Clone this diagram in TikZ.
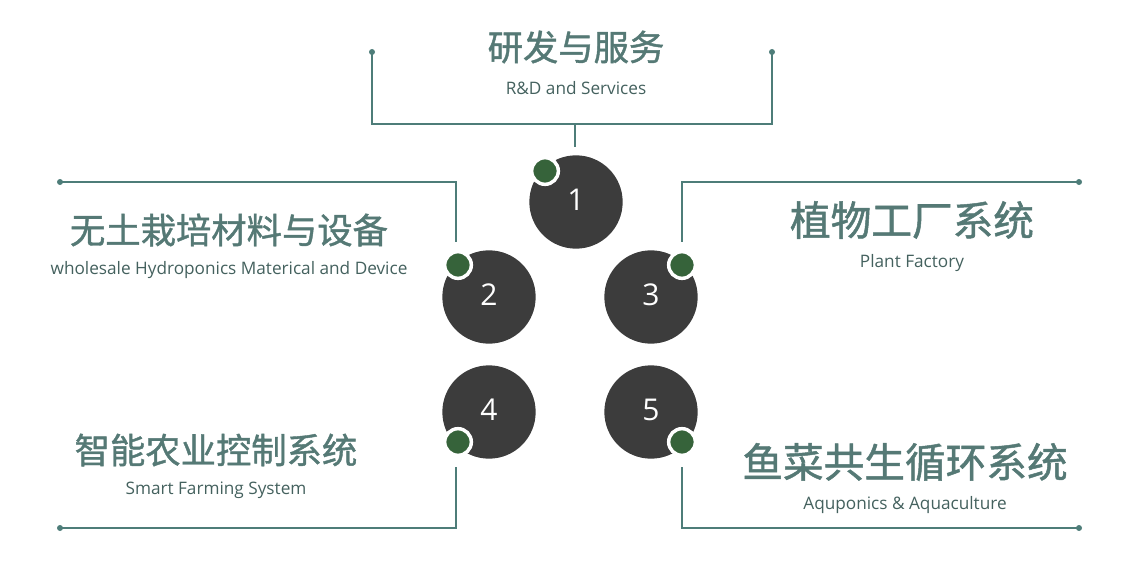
\documentclass[tikz,border=0pt]{standalone}
\usepackage{fontspec}
\setmainfont{Open Sans}
\newfontfamily\cjk{Noto Sans CJK SC}[FakeBold=1.2]
\definecolor{teal1}{HTML}{4E7D79}
\definecolor{txtc}{HTML}{557975}
\definecolor{ball}{HTML}{3C3C3C}
\definecolor{dotg}{HTML}{36633A}
\begin{document}
\begin{tikzpicture}[x=0.75pt,y=-0.75pt,
  ball/.style={circle,fill=ball,minimum size=70pt,inner sep=0pt,text depth=4pt,text=white,font=\fontsize{22.5}{22.5}\selectfont},
  gdot/.style={circle,fill=dotg,draw=white,line width=2.6pt,minimum size=20pt,inner sep=0pt},
  conn/.style={draw=teal1,line width=0.8pt},
  enddot/.style={circle,fill=teal1,minimum size=4.5pt,inner sep=0pt},
  zh/.style={text=txtc,font=\cjk\fontsize{26.5}{26.5}\selectfont,inner sep=0pt},
  zhbig/.style={text=txtc,font=\cjk\fontsize{30.5}{30.5}\selectfont,inner sep=0pt},
  en/.style={text=txtc!80!black,font=\fontsize{12.9}{12.9}\selectfont,inner sep=0pt}]
\useasboundingbox (0,0) rectangle (1137,581);
% balls
\node[ball] (b1) at (576,202) {1};
\node[ball] (b2) at (489,297) {2};
\node[ball] (b3) at (651,297) {3};
\node[ball] (b4) at (489,412) {4};
\node[ball] (b5) at (651,412) {5};
% green dots
\node[gdot] (g1) at (545,171) {};
\node[gdot] (g2) at (458,265) {};
\node[gdot] (g3) at (682,265) {};
\node[gdot] (g4) at (458,442) {};
\node[gdot] (g5) at (682,442) {};
% end dots
\node[enddot] (e1a) at (372,52) {};
\node[enddot] (e1b) at (772,52) {};
\node[enddot] (e2) at (60,182) {};
\node[enddot] (e3) at (1079,182) {};
\node[enddot] (e4) at (60,528) {};
\node[enddot] (e5) at (1079,528) {};
\coordinate (t1) at (575,124);
\coordinate (s1) at (575,147);
\coordinate (s2) at (456,242);
\coordinate (s3) at (682,242);
\coordinate (s4) at (456,467);
\coordinate (s5) at (682,467);
% connectors
\draw[conn] (e1a.center) |- (t1) -| (e1b.center);
\draw[conn] (t1) -- (s1);
\draw[conn] (e2.center) -| (s2);
\draw[conn] (e3.center) -| (s3);
\draw[conn] (e4.center) -| (s4);
\draw[conn] (e5.center) -| (s5);
% texts
\node[zh] (c1) at (576,47) {研发与服务};
\node[en] (d1) at (576,88) {R\&D and Services};
\node[zh] (c2) at (229,230) {无土栽培材料与设备};
\node[en] (d2) at (229,270) {wholesale Hydroponics Materical and Device};
\node[zhbig] (c3) at (912,220) {植物工厂系统};
\node[en] (d3) at (912,263) {Plant Factory};
\node[zh] (c4) at (216,450) {智能农业控制系统};
\node[en] (d4) at (216,490) {Smart Farming System};
\node[zhbig] (c5) at (905,462) {鱼菜共生循环系统};
\node[en] (d5) at (905,505) {Aquponics \& Aquaculture};
\end{tikzpicture}
\end{document}
